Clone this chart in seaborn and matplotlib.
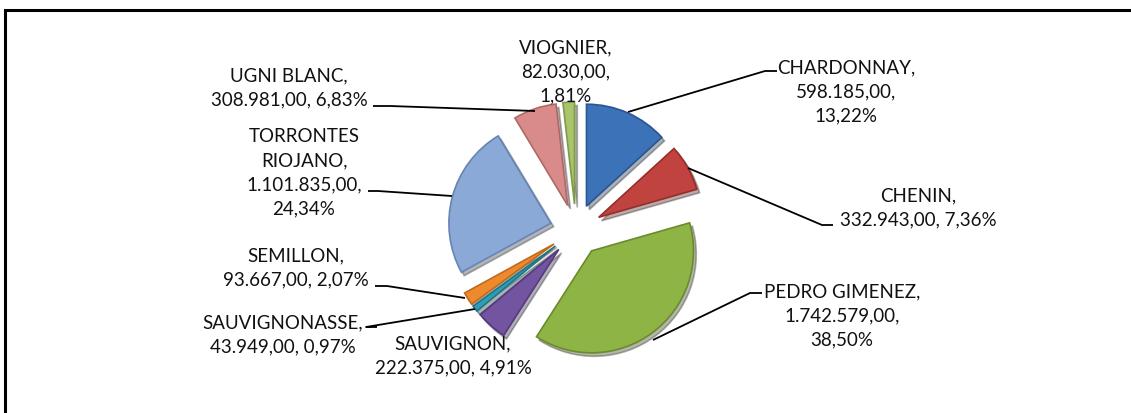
import numpy as np
import matplotlib
matplotlib.use("Agg")
import matplotlib.pyplot as plt
import seaborn as sns

# grape varieties, hectolitres
varieties = ["CHARDONNAY", "CHENIN", "PEDRO GIMENEZ", "SAUVIGNON", "SAUVIGNONASSE",
             "SEMILLON", "TORRONTES\nRIOJANO", "UGNI BLANC", "VIOGNIER"]
volumes = [598185, 332943, 1742579, 222375, 43949, 93667, 1101835, 308981, 82030]
colors = ["#3c72b8", "#c0433f", "#8db444", "#7254a0", "#2f9db2",
          "#ee8a2e", "#8aa9d6", "#d98b8a", "#a9c56c"]
edges = ["#2a5590", "#962e2b", "#6a8a2c", "#533a7c", "#1f7688",
         "#c06a1c", "#6685b4", "#b06866", "#7f9a48"]

# how each label is broken into lines
layouts = ["{n},\n{v},\n{p}", "{n},\n{v}, {p}", "{n},\n{v},\n{p}", "{n},\n{v}, {p}",
           "{n},\n{v}, {p}", "{n},\n{v}, {p}", "{n},\n{v},\n{p}", "{n},\n{v}, {p}",
           "{n},\n{v},\n{p}"]

# label block centres and leader lines (pixel coords, y from top)
label_pos = [(846, 92), (918, 208), (842, 316), (453, 356), (283, 335),
             (296, 268), (304, 173), (289, 88), (566, 72)]
leaders = [[(777, 72), (765, 72), (628, 113)],
           [(833, 226), (822, 226), (688, 169)],
           [(762, 294), (750, 294), (653, 341)],
           None,
           [(377, 328), (366, 328), (475, 310)],
           [(375, 287), (387, 287), (465, 299)],
           [(368, 192), (378, 192), (452, 197)],
           [(373, 107), (390, 107), (535, 112)],
           None]


def fmt_num(v):
    return f"{v:,.2f}".replace(",", "X").replace(".", ",").replace("X", ".")


sns.set_theme(style="white")
plt.rcParams["font.family"] = ["Lato", "DejaVu Sans"]

W, H = 1131, 414
fig = plt.figure(figsize=(W / 100, H / 100), dpi=100)
ax = fig.add_axes([0, 0, 1, 1])

total = sum(volumes)
wedges, _ = ax.pie(volumes, colors=colors, startangle=90, counterclock=False,
                   explode=[26] * len(volumes), center=(576, H - 231), radius=102,
                   shadow={"ox": 2, "oy": -2.5, "shade": 0.75, "alpha": 0.35},
                   wedgeprops=dict(linewidth=1.2))
for w, ec in zip(wedges, edges):
    w.set_edgecolor(ec)
ax.set_xlim(0, W)
ax.set_ylim(0, H)
ax.set_aspect("equal")
ax.axis("off")

for name, vol, lay, (x, y) in zip(varieties, volumes, layouts, label_pos):
    pct = f"{vol / total * 100:.2f}%".replace(".", ",")
    txt = lay.format(n=name, v=fmt_num(vol), p=pct)
    ax.text(x, H - y, txt, ha="center", va="center", fontsize=13.5,
            linespacing=1.5, color="#111111")

for seg in leaders:
    if seg is None:
        continue
    xs = [p[0] for p in seg]
    ys = [H - p[1] for p in seg]
    ax.plot(xs, ys, color="black", lw=1.3, solid_capstyle="butt")

# chart frame (left and top edges show)
ax.plot([5, 5, W + 5], [-5, H - 11, H - 11], color="black", lw=2.2,
        solid_joinstyle="miter")

fig.savefig("out.png", dpi=100)
